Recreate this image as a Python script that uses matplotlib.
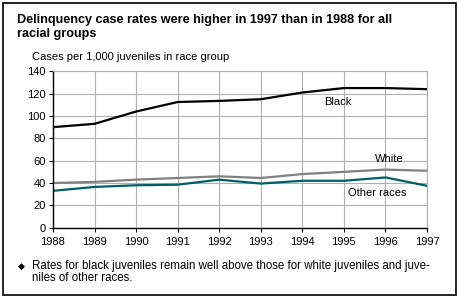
import matplotlib
matplotlib.use("Agg")
import matplotlib.pyplot as plt

plt.rcParams['font.family'] = ['Liberation Sans', 'DejaVu Sans']

years = [1988, 1989, 1990, 1991, 1992, 1993, 1994, 1995, 1996, 1997]
black = [90, 93, 104, 112.5, 113.5, 115, 121, 125, 125, 124]
white = [40, 41, 43, 44.5, 46, 44.5, 48, 50, 52, 51]
other = [33, 36.5, 38, 38.5, 43, 39.5, 42, 42, 45, 37.5]
yticks = [0, 20, 40, 60, 80, 100, 120, 140]

W, H = 460, 299
fig = plt.figure(figsize=(W / 100, H / 100), dpi=100)

def fx(x):
    return x / W

def fy(y):
    return 1 - y / H

# outer frame
fig.patches.append(plt.Rectangle((fx(3), fy(295)), fx(453), 292 / H, fill=False,
                                 edgecolor='black', linewidth=1.2, transform=fig.transFigure))

fig.text(fx(17), fy(27), "Delinquency case rates were higher in 1997 than in 1988 for all\nracial groups",
         fontsize=9.1, fontweight='bold', ha='left', va='center', linespacing=1.25)
fig.text(fx(32), fy(57), "Cases per 1,000 juveniles in race group", fontsize=8, ha='left', va='center')

ax = fig.add_axes([fx(53), fy(227.7), fx(427 - 53), (227.7 - 71.3) / H])
ax.plot(years, black, color='black', lw=1.6)
ax.plot(years, white, color='#808080', lw=1.6)
ax.plot(years, other, color='#006060', lw=1.6)

ax.set_xlim(1988, 1997)
ax.set_ylim(0, 140)
ax.set_xticks(years)
ax.set_yticks(yticks)
ax.grid(True, color='#b0b0b0', lw=0.8)
ax.set_axisbelow(True)
for s in ['top', 'right']:
    ax.spines[s].set_color('#b0b0b0')
    ax.spines[s].set_linewidth(0.8)
for s in ['left', 'bottom']:
    ax.spines[s].set_color('black')
    ax.spines[s].set_linewidth(1.0)
ax.tick_params(labelsize=8, length=3, width=0.8, pad=2)
ax.tick_params(axis='x', pad=4)

ax.text(1994.85, 112.5, "Black", fontsize=8, ha='center', va='center')
ax.text(1996.1, 61.5, "White", fontsize=8, ha='center', va='center')
ax.text(1995.8, 31, "Other races", fontsize=8, ha='center', va='center')

fig.text(fx(21), fy(266.5), "\u25c6", fontsize=6.5, ha='center', va='center')
fig.text(fx(32), fy(272), "Rates for black juveniles remain well above those for white juveniles and juve-\nniles of other races.",
         fontsize=8.3, ha='left', va='center', linespacing=1.1)

fig.savefig("out.png", dpi=100)
